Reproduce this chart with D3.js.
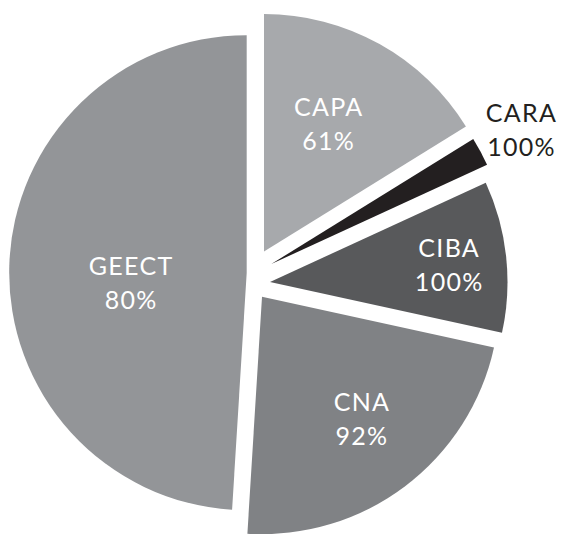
<!DOCTYPE html>
<html>
<head>
<meta charset="utf-8">
<script src="https://cdn.jsdelivr.net/npm/d3@7"></script>
<style>
  body { margin: 0; background: #fff; }
  .lbl { font-family: Lato, "Open Sans", sans-serif; font-size: 25px; letter-spacing: 1.3px; }
</style>
</head>
<body>
<div id="chart"></div>
<script>
// slice data (clockwise from 12 o'clock)
const names = ["CAPA", "CARA", "CIBA", "CNA", "GEECT"];
const shares = [33, 4, 21, 46, 100];
const rates = ["61%", "100%", "100%", "92%", "80%"];

const colors = ["#a7a9ac", "#231f20", "#58595b", "#808285", "#939598"];
const labelColors = ["#fff", "#231f20", "#fff", "#fff", "#fff"];

const width = 563;
const height = 534;
const cx = 246.7, cy = 272.7;
const radius = 237.5;

// each slice is pulled out by hand, a bit like excel's point explosion
const explode = [[17.3, -21.2], [24.6, -8.7], [23.3, 9.3], [15.3, 24], [0, 0]];
const labelDist = [143, 284, 180, 158, 116];
const labelTurn = [-2.2, 0, 0.8, -2.2, -6.9];

const svg = d3.select("#chart").append("svg")
    .attr("width", width)
    .attr("height", height);

const pie = d3.pie()
    .sort(null)
    .startAngle(0)
    .endAngle(2 * Math.PI)
    .value(function(d) { return d; });

const arc = d3.arc()
    .innerRadius(0)
    .outerRadius(radius);

const arcs = pie(shares);

const slices = svg.selectAll("g.slice")
    .data(arcs)
    .enter()
    .append("g")
    .attr("class", "slice")
    .attr("transform", function(d, i) {
        return "translate(" + (cx + explode[i][0]) + "," + (cy + explode[i][1]) + ")";
    });

slices.append("path")
    .attr("d", arc)
    .attr("fill", function(d, i) { return colors[i]; });

const labels = slices.append("text")
    .attr("class", "lbl")
    .attr("text-anchor", "middle")
    .attr("fill", function(d, i) { return labelColors[i]; })
    .attr("transform", function(d, i) {
        const a = (d.startAngle + d.endAngle) / 2 + labelTurn[i] * Math.PI / 180;
        const x = labelDist[i] * Math.sin(a);
        const y = -labelDist[i] * Math.cos(a);
        return "translate(" + x + "," + y + ")";
    });

labels.append("tspan")
    .attr("x", 0)
    .attr("y", -8)
    .text(function(d, i) { return names[i]; });

labels.append("tspan")
    .attr("x", 0)
    .attr("y", 26)
    .text(function(d, i) { return rates[i]; });
</script>
</body>
</html>
